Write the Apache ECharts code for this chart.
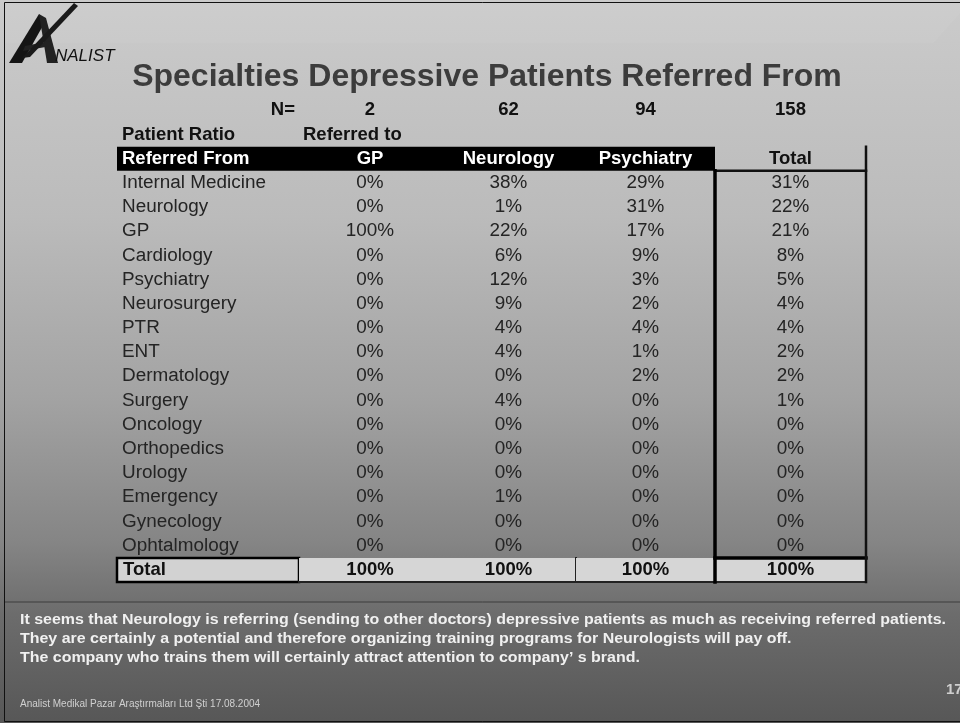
<!DOCTYPE html>
<html>
<head>
<meta charset="utf-8">
<script src="https://cdn.jsdelivr.net/npm/echarts@6/dist/echarts.min.js"></script>
<style>html,body{margin:0;padding:0;}#c{width:960px;height:723px;}</style>
</head>
<body>
<div id="c"></div>
<script>
// ---------- data ----------
const titleText = 'Specialties Depressive Patients Referred From';
const columns = ['GP', 'Neurology', 'Psychiatry', 'Total'];
const nLabel = 'N=';
const nValues = [2, 62, 94, 158];
const ratioLabel = 'Patient Ratio';
const referredToLabel = 'Referred to';
const referredFromLabel = 'Referred From';
const totalLabel = 'Total';
const rowLabels = ['Internal Medicine', 'Neurology', 'GP', 'Cardiology', 'Psychiatry', 'Neurosurgery',
  'PTR', 'ENT', 'Dermatology', 'Surgery', 'Oncology', 'Orthopedics', 'Urology', 'Emergency',
  'Gynecology', 'Ophtalmology'];
const gpValues = [0, 0, 100, 0, 0, 0, 0, 0, 0, 0, 0, 0, 0, 0, 0, 0];
const neurologyValues = [38, 1, 22, 6, 12, 9, 4, 4, 0, 4, 0, 0, 0, 1, 0, 0];
const psychiatryValues = [29, 31, 17, 9, 3, 2, 4, 1, 2, 0, 0, 0, 0, 0, 0, 0];
const totalValues = [31, 22, 21, 8, 5, 4, 4, 2, 2, 1, 0, 0, 0, 0, 0, 0];
const columnTotals = [100, 100, 100, 100];
const footerLines = [
  'It seems that Neurology is referring (sending to other doctors) depressive patients as much as receiving referred patients.',
  'They are certainly a potential and therefore organizing training programs for Neurologists will pay off.',
  'The company who trains them will certainly attract attention to company\u2019 s brand.'
];
const sourceText = 'Analist Medikal Pazar Ara\u015ft\u0131rmalar\u0131 Ltd \u015eti 17.08.2004';
const pageNumber = '17';

const valueCols = [gpValues, neurologyValues, psychiatryValues, totalValues];

// ---------- layout ----------
const rowKeys = ['n', 'sub', 'head'].concat(rowLabels).concat(['total']);
const colLefts = [117, 299, 441, 576, 715];
const colWidths = [182, 142, 135, 139, 151];
const gridTop = 98.3, gridHeight = 483.8;
const FONT = '"Liberation Sans", Arial, sans-serif';
const boldF = 'bold 18.5px ' + FONT;
const regF = '18px ' + FONT;
const DARK = '#242424';

function txt(str, x, y, align, font, fill, sx) {
  return {
    type: 'text', x: x, y: y, scaleX: sx || 1,
    style: { text: str, x: 0, y: 0, font: font, fill: fill,
      align: align, textAlign: align, verticalAlign: 'middle', textVerticalAlign: 'middle' }
  };
}
function line(x1, y1, x2, y2, w, color) {
  return { type: 'line', shape: { x1: x1, y1: y1, x2: x2, y2: y2 },
    style: { stroke: color || '#000', lineWidth: w, lineCap: 'square' } };
}

function makeRender(c) {
  return function (params, api) {
    const r = api.value(1);
    const p = api.coord([api.value(0), r]);
    const s = api.size([1, 1]);
    const w = s[0], h = s[1];
    const x0 = p[0] - w / 2, y0 = p[1] - h / 2, x1 = x0 + w, y1 = y0 + h;
    const cx = p[0], cy = p[1];
    const last = rowKeys.length - 1;
    const kind = r === 0 ? 'n' : r === 1 ? 'sub' : r === 2 ? 'head' : r === last ? 'total' : 'data';
    const ch = [];
    if (kind === 'n') {
      if (c === 0) ch.push(txt(nLabel, x1 - 4, cy, 'right', boldF, '#111'));
      else ch.push(txt(String(nValues[c - 1]), cx, cy, 'center', boldF, '#111'));
    } else if (kind === 'sub') {
      if (c === 0) ch.push(txt(ratioLabel, x0 + 5, cy, 'left', boldF, '#111'));
      else if (c === 1) ch.push(txt(referredToLabel, x0 + 4, cy, 'left', boldF, '#111'));
    } else if (kind === 'head') {
      if (c < 4) {
        ch.push({ type: 'rect', shape: { x: x0, y: y0, width: w, height: h }, style: { fill: '#000' } });
        if (c === 0) ch.push(txt(referredFromLabel, x0 + 5, cy, 'left', boldF, '#fff'));
        else ch.push(txt(columns[c - 1], cx, cy, 'center', boldF, '#fff'));
      } else {
        ch.push(txt(columns[c - 1], cx, cy, 'center', boldF, '#111'));
        ch.push(line(x0, y1, x1, y1, 2.5, '#111'));
      }
    } else if (kind === 'data') {
      const i = r - 3;
      if (c === 0) ch.push(txt(rowLabels[i], x0 + 5, cy, 'left', regF, DARK, 1.05));
      else ch.push(txt(valueCols[c - 1][i] + '%', cx, cy, 'center', regF, DARK, 1.05));
    } else {
      if (c === 0) {
        ch.push({ type: 'rect', shape: { x: x0, y: y0, width: w, height: h },
          style: { fill: '#d2d2d2', stroke: '#000', lineWidth: 2.5 } });
        ch.push(txt(totalLabel, x0 + 6, cy, 'left', boldF, '#111'));
      } else {
        ch.push({ type: 'rect', shape: { x: x0, y: y0, width: w, height: h }, style: { fill: '#d6d6d6' } });
        ch.push(line(x0, y1, x1, y1, 2, '#222'));
        if (c === 2) ch.push(line(x1, y0, x1, y1, 2, '#222'));
        if (c === 4) {
          // total column frame, spanning from the header row down to this row
          const headTop = api.coord([0, 2])[1] - h / 2;
          const headBottom = headTop + h;
          ch.push(line(x0, y0, x1, y0, 3.5, '#000'));
          ch.push(line(x0, headBottom, x0, y1, 3.5, '#000'));
          ch.push(line(x1, headTop, x1, y1, 2.5, '#111'));
        }
        ch.push(txt(columnTotals[c - 1] + '%', cx, cy, 'center', boldF, '#111'));
      }
    }
    return { type: 'group', children: ch };
  };
}

const grids = [], xAxes = [], yAxes = [], series = [];
for (let c = 0; c < 5; c++) {
  grids.push({ left: colLefts[c], width: colWidths[c], top: gridTop, height: gridHeight });
  xAxes.push({ type: 'category', gridIndex: c, data: [c === 0 ? referredFromLabel : columns[c - 1]], show: false });
  yAxes.push({ type: 'category', gridIndex: c, inverse: true, data: rowKeys, show: false });
  series.push({
    type: 'custom', xAxisIndex: c, yAxisIndex: c, z: 2 + c, silent: true,
    renderItem: makeRender(c),
    data: rowKeys.map(function (k, r) { return [0, r]; })
  });
}

const graphics = [
  { type: 'rect', z: -10, shape: { x: 0, y: 0, width: 960, height: 723 },
    style: { fill: new echarts.graphic.LinearGradient(0, 0, 0, 1, [
      { offset: 0, color: '#cbcbcb' }, { offset: 0.3, color: '#bbbbbb' },
      { offset: 0.55, color: '#a3a3a3' }, { offset: 0.75, color: '#858585' },
      { offset: 0.85, color: '#6c6c6c' }, { offset: 1, color: '#575757' }]) } },
  { type: 'polygon', z: -9, shape: { points: [[5, 3], [960, 3], [960, 13], [933, 43], [5, 43]] },
    style: { fill: 'rgba(255,255,255,0.05)' } },
  { type: 'rect', z: 20, shape: { x: 4.5, y: 2.5, width: 960, height: 719 },
    style: { fill: null, stroke: '#111', lineWidth: 1 } },
  { type: 'line', z: 1, shape: { x1: 5, y1: 602, x2: 960, y2: 602 }, style: { stroke: '#3c3c3c', lineWidth: 1 } },
  // logo
  { type: 'polygon', z: 1, shape: { points: [[9, 63], [22, 63], [45, 22], [39, 14]] }, style: { fill: '#151515' } },
  { type: 'polygon', z: 1, shape: { points: [[39, 14], [46, 18], [58, 63], [47, 63]] }, style: { fill: '#222' } },
  { type: 'polygon', z: 1, shape: { points: [[25, 46], [50, 41], [51, 46], [23, 51]] }, style: { fill: '#222' } },
  { type: 'polygon', z: 1, shape: { points: [[22, 58], [74, 3], [78, 6], [30, 57]] }, style: { fill: '#1a1a1a' } },
  { type: 'text', z: 1, x: 55, y: 56, style: { text: 'NALIST', font: 'italic 17px ' + FONT, fill: '#111',
      align: 'left', verticalAlign: 'middle' } },
  // title
  { type: 'text', z: 1, x: 487, y: 77, style: { text: titleText, font: 'bold 32px ' + FONT, fill: '#3c3c3c',
      align: 'center', verticalAlign: 'middle', textShadowColor: 'rgba(255,255,255,0.4)',
      textShadowOffsetX: 1, textShadowOffsetY: 1, textShadowBlur: 0 } },
  { type: 'text', z: 1, x: 20, y: 704, style: { text: sourceText, font: '10px ' + FONT, fill: '#d0d0d0',
      align: 'left', verticalAlign: 'middle' } },
  { type: 'text', z: 1, x: 946, y: 690, style: { text: pageNumber, font: 'bold 15px ' + FONT, fill: '#cfcfcf',
      align: 'left', verticalAlign: 'middle' } }
];
footerLines.forEach(function (t, i) {
  graphics.push({ type: 'text', z: 1, x: 20, y: 620 + i * 19, scaleX: 1.14,
    style: { text: t, font: 'bold 14px ' + FONT,
    fill: '#f0f0f0', align: 'left', verticalAlign: 'middle',
    textShadowColor: 'rgba(0,0,0,0.35)', textShadowOffsetX: 1, textShadowOffsetY: 1 } });
});

const chart = echarts.init(document.getElementById('c'), null, { renderer: 'canvas' });
chart.setOption({
  animation: false,
  backgroundColor: '#b0b0b0',
  graphic: { elements: graphics },
  grid: grids,
  xAxis: xAxes,
  yAxis: yAxes,
  series: series
});
</script>
</body>
</html>
